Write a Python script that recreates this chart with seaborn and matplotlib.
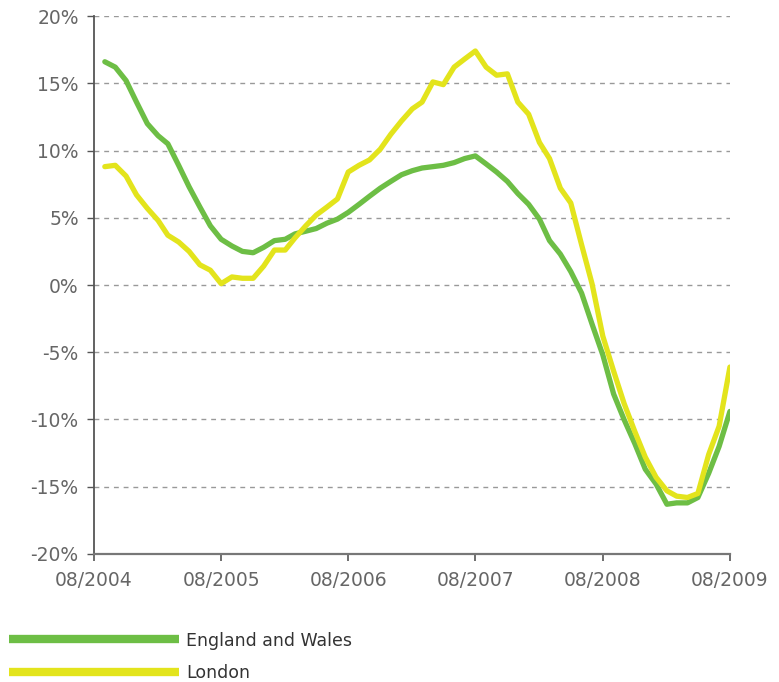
import pandas as pd
import numpy as np
import seaborn as sns
import matplotlib
matplotlib.use('Agg')
import matplotlib.pyplot as plt
import matplotlib.dates as mdates
from matplotlib.lines import Line2D

# Annual house price change, monthly, 09/2004 - 08/2009
MONTHS = pd.date_range('2004-09-01', periods=60, freq='MS')

ENGLAND_WALES = [
    16.6, 16.2, 15.2, 13.6, 12.0, 11.1, 10.5, 8.9, 7.3, 5.8, 4.4, 3.4,
    2.9, 2.5, 2.4, 2.8, 3.3, 3.4, 3.8, 4.0, 4.2, 4.6, 4.9, 5.4,
    6.0, 6.6, 7.2, 7.7, 8.2, 8.5, 8.7, 8.8, 8.9, 9.1, 9.4, 9.6,
    9.0, 8.4, 7.7, 6.8, 6.0, 4.9, 3.3, 2.3, 1.0, -0.6, -2.9, -5.2,
    -8.1, -10.0, -11.8, -13.7, -14.8, -16.3, -16.2, -16.2, -15.8, -14.0, -12.0, -9.4,
]
LONDON = [
    8.8, 8.9, 8.1, 6.7, 5.7, 4.8, 3.7, 3.2, 2.5, 1.5, 1.1, 0.1,
    0.6, 0.5, 0.5, 1.4, 2.6, 2.6, 3.5, 4.4, 5.2, 5.8, 6.4, 8.4,
    8.9, 9.3, 10.1, 11.2, 12.2, 13.1, 13.6, 15.1, 14.9, 16.2, 16.8, 17.4,
    16.2, 15.6, 15.7, 13.6, 12.7, 10.6, 9.4, 7.2, 6.1, 3.0, 0.1, -3.8,
    -6.4, -8.8, -10.9, -12.8, -14.3, -15.3, -15.7, -15.8, -15.5, -12.6, -10.5, -6.1,
]
SERIES = ['England and Wales', 'London']
COLORS = {'England and Wales': '#6DBE45', 'London': '#E3E41C'}

Y_TICKS = [20, 15, 10, 5, 0, -5, -10, -15, -20]
X_TICKS = pd.date_range('2004-08-01', '2009-08-01', freq='12MS')

df = pd.DataFrame({
    'month': np.concatenate([MONTHS, MONTHS]),
    'change': ENGLAND_WALES + LONDON,
    'region': [SERIES[0]] * len(MONTHS) + [SERIES[1]] * len(MONTHS),
})

sns.set_style('white')
plt.rcParams['font.family'] = ['DejaVu Sans']

fig = plt.figure(figsize=(7.79, 6.82), dpi=100)
ax = fig.add_axes([0.1207, 0.1877, 0.8163, 0.7888])

sns.lineplot(data=df, x='month', y='change', hue='region', palette=COLORS,
             linewidth=3.8, ax=ax, legend=False)

ax.set_xlim(X_TICKS[0], X_TICKS[-1])
ax.set_ylim(-20, 20)
ax.set_yticks(Y_TICKS)
ax.set_yticklabels([f'{v}%' for v in Y_TICKS])
ax.set_xticks(X_TICKS)
ax.xaxis.set_major_formatter(mdates.DateFormatter('%m/%Y'))
ax.set_xlabel('')
ax.set_ylabel('')

for v in Y_TICKS[:-1]:
    ax.axhline(v, color='#999999', linestyle=(0, (3.5, 3.5)), linewidth=1.0, zorder=0)

for side in ['top', 'right']:
    ax.spines[side].set_visible(False)
ax.spines['left'].set_color('#555555')
ax.spines['bottom'].set_color('#777777')
ax.spines['left'].set_linewidth(1.3)
ax.spines['bottom'].set_linewidth(1.6)

ax.tick_params(axis='y', direction='out', length=5, width=1, color='#555555',
               labelsize=13.5, labelcolor='#666666', left=True, pad=6)
ax.tick_params(axis='x', direction='out', length=5, width=1.2, color='#555555',
               labelsize=13.5, labelcolor='#666666', bottom=True, pad=7)

handles = [Line2D([0], [0], color=COLORS[s], linewidth=6, solid_capstyle='butt')
           for s in SERIES]
fig.legend(handles, SERIES, loc='upper left', bbox_to_anchor=(0.012, 0.074),
           frameon=False, handlelength=9.8, handletextpad=0.4, labelspacing=0.85,
           fontsize=12.5, labelcolor='#333333', borderaxespad=0, borderpad=0)

fig.savefig('out.png', dpi=100)
